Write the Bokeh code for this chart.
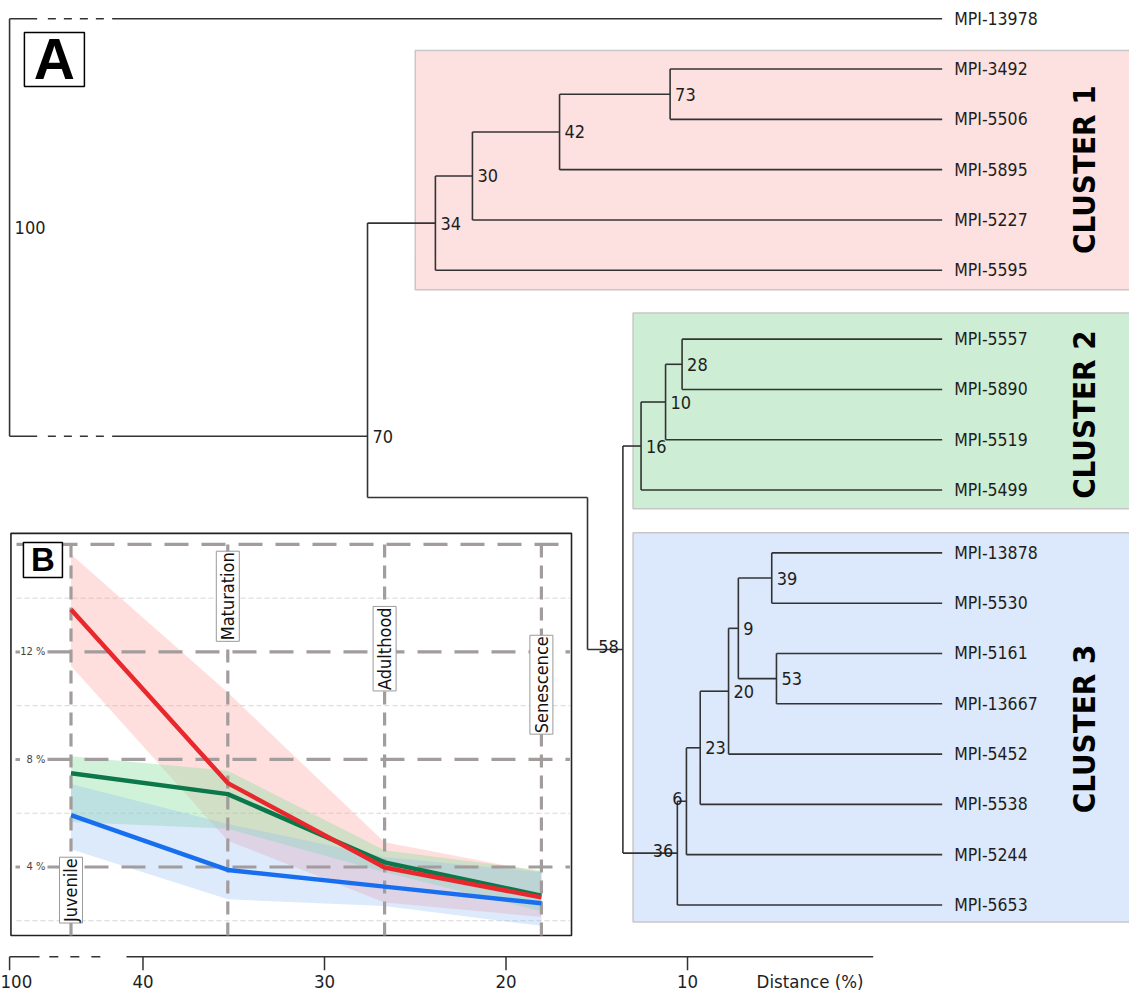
import math
from bokeh.plotting import figure
from bokeh.models import Range1d, LinearAxis, FixedTicker, ColumnDataSource
from bokeh.core.properties import value
from bokeh.embed import file_html
from bokeh.resources import INLINE

# ------------------------------------------------------------------ data
# dendrogram leaves (top to bottom) and their cluster
leaf_names = ["MPI-13978",
              "MPI-3492", "MPI-5506", "MPI-5895", "MPI-5227", "MPI-5595",
              "MPI-5557", "MPI-5890", "MPI-5519", "MPI-5499",
              "MPI-13878", "MPI-5530", "MPI-5161", "MPI-13667", "MPI-5452",
              "MPI-5538", "MPI-5244", "MPI-5653"]
leaf_cluster = [0, 1, 1, 1, 1, 1, 2, 2, 2, 2, 3, 3, 3, 3, 3, 3, 3, 3]

# internal nodes: children, merge distance (%), bootstrap support
node_ids = ["n73", "n42", "n30", "n34", "n28", "n10", "n16", "n39", "n53", "n9",
            "n20", "n23", "n6", "n36", "n58", "n70", "root"]
node_child_a = ["MPI-3492", "n73", "n42", "n30", "MPI-5557", "n28", "n10", "MPI-13878",
                "MPI-5161", "n39", "n9", "n20", "n23", "n6", "n16", "n34", "MPI-13978"]
node_child_b = ["MPI-5506", "MPI-5895", "MPI-5227", "MPI-5595", "MPI-5890", "MPI-5519",
                "MPI-5499", "MPI-5530", "MPI-13667", "n53", "MPI-5452", "MPI-5538",
                "MPI-5244", "MPI-5653", "n36", "n58", "n70"]
node_distance = [10.96, 17.05, 21.85, 23.89, 10.30, 11.21, 12.56, 5.36, 5.10, 7.20,
                 7.74, 9.30, 10.06, 10.56, 13.56, 27.63, 100.0]
node_support = ["73", "42", "30", "34", "28", "10", "16", "39", "53", "9",
                "20", "23", "6", "36", "58", "70", "100"]

cluster_names = ["CLUSTER 1", "CLUSTER 2", "CLUSTER 3"]
cluster_fill = ["#fde1e0", "#cdeed5", "#dce8fb"]

distance_ticks = [100, 40, 30, 20, 10]
distance_title = "Distance (%)"

# panel B: growth stages, mean and band per cluster (%)
stages = ["Juvenile", "Maturation", "Adulthood", "Senescence"]
c1_mean = [13.58, 7.12, 3.98, 2.87]
c1_lo = [11.48, 4.98, 2.68, 2.14]
c1_hi = [15.63, 10.49, 4.92, 3.81]
c2_mean = [7.49, 6.71, 4.17, 2.93]
c2_lo = [5.67, 5.42, 3.80, 2.35]
c2_hi = [8.12, 7.58, 4.62, 3.87]
c3_mean = [5.93, 3.89, 3.27, 2.65]
c3_lo = [4.66, 2.80, 2.55, 1.81]
c3_hi = [7.09, 5.60, 4.37, 3.80]
pct_major = [16, 12, 8, 4]
pct_minor = [14, 10, 6, 2]

# ------------------------------------------------------------------ layout / style
W, H = 1129, 994
NARROW = ("Liberation Sans Narrow, Arial Narrow, Nimbus Sans Narrow, "
          "DejaVu Sans Condensed, Liberation Sans, sans-serif")
BOLD = "Liberation Sans"
TREE_COL = "#333333"
TXT_COL = "#1e1e1e"
GRID_COL = "#a29c9c"

BREAK_POS = 47.35           # plotted position of the broken "100" distance
TITLE_POS = 3.25            # where the axis title sits along the distance scale
LEAF_TIP = -4.03
CLUSTER_GAP = {2: 0.37, 3: 0.25}
BRK = (45.83, 45.24, 42.12, 41.70)   # solid end, dash start, dash end, solid start
DETOUR_X, DETOUR_ROW = 15.51, 9.518
BOX_LEFT = [25.0, 13.0, 13.0]
BOX_PAD_TOP = [0.37, 0.52, 0.40]
BOX_PAD_BOT = [0.39, 0.37, 0.34]
CLUSTER_LABEL_X = -11.82
AXIS_ROW = 18.651
FRAME_BOTTOM_ROW = 18.923


def xpos(d):
    return BREAK_POS if d >= 50 else d


p = figure(width=W, height=H, output_backend="svg", toolbar_location=None,
           x_range=Range1d(47.85, -14.35), y_range=Range1d(FRAME_BOTTOM_ROW, -0.3631),
           x_axis_type=None, y_axis_type=None,
           min_border_left=0, min_border_right=0, min_border_top=0, min_border_bottom=22)
p.outline_line_color = None
p.background_fill_color = "white"
p.border_fill_color = "white"
p.extra_x_ranges = {"bx": Range1d(-0.4496, 6.7506)}
p.extra_y_ranges = {"by": Range1d(0.150, 36.23)}

# ---------------- tree geometry
pos = {}
row = 0.0
prev = None
for name, c in zip(leaf_names, leaf_cluster):
    if prev is not None and c != prev:
        row += CLUSTER_GAP.get(c, 0.0)
    pos[name] = (LEAF_TIP, row)
    row += 1.0
    prev = c
for nid, a, b, d in zip(node_ids, node_child_a, node_child_b, node_distance):
    pos[nid] = (xpos(d), (pos[a][1] + pos[b][1]) / 2.0)

solid = dict(x0=[], y0=[], x1=[], y1=[])
dashed = dict(x0=[], y0=[], x1=[], y1=[])


def seg(store, x0, y0, x1, y1):
    store["x0"].append(x0); store["y0"].append(y0)
    store["x1"].append(x1); store["y1"].append(y1)


for nid, a, b in zip(node_ids, node_child_a, node_child_b):
    nx, ny = pos[nid]
    ya, yb = pos[a][1], pos[b][1]
    if nid == "n70":
        seg(solid, nx, ya, nx, DETOUR_ROW)
        seg(solid, nx, ya, pos[a][0], ya)
        seg(solid, nx, DETOUR_ROW, DETOUR_X, DETOUR_ROW)
        seg(solid, DETOUR_X, DETOUR_ROW, DETOUR_X, yb)
        seg(solid, DETOUR_X, yb, pos[b][0], yb)
        continue
    seg(solid, nx, ya, nx, yb)
    for ch in (a, b):
        cx, cy = pos[ch]
        if nid == "root":
            seg(solid, nx, cy, BRK[0], cy)
            seg(dashed, BRK[1], cy, BRK[2], cy)
            seg(solid, BRK[3], cy, cx, cy)
        else:
            seg(solid, nx, cy, cx, cy)

# cluster boxes
bl, br, bt, bb, lx, ly = [], [], [], [], [], []
for k in range(len(cluster_names)):
    rows = [pos[n][1] for n, c in zip(leaf_names, leaf_cluster) if c == k + 1]
    bl.append(BOX_LEFT[k]); br.append(-20.0)
    bt.append(min(rows) - BOX_PAD_TOP[k]); bb.append(max(rows) + BOX_PAD_BOT[k])
    lx.append(CLUSTER_LABEL_X); ly.append((min(rows) + max(rows)) / 2.0)
p.quad(left=bl, right=br, top=bt, bottom=bb, fill_color=cluster_fill,
       line_color="#cbc6c6", line_width=1.5)
p.text(x=lx, y=ly, text=cluster_names, angle=math.pi / 2, text_align="center",
       text_baseline="middle", text_font=value(NARROW), text_font_style="bold",
       text_font_size="31px", text_color="black")

p.segment(x0="x0", y0="y0", x1="x1", y1="y1", source=ColumnDataSource(solid),
          line_color=TREE_COL, line_width=1.6)
p.segment(x0="x0", y0="y0", x1="x1", y1="y1", source=ColumnDataSource(dashed),
          line_color=TREE_COL, line_width=1.6, line_dash="8 8")

# leaf labels
p.text(x=[pos[n][0] for n in leaf_names], y=[pos[n][1] for n in leaf_names],
       text=leaf_names, x_offset=12, text_align="left", text_baseline="middle",
       text_font=value(NARROW), text_font_size="17.5px", text_color=TXT_COL)

# node support labels
left_above = {"n58", "n36", "n6"}
rx, ry, rt, qx, qy, qt = [], [], [], [], [], []
for nid, s in zip(node_ids, node_support):
    x, y = pos[nid]
    if nid in left_above:
        qx.append(x); qy.append(y); qt.append(s)
    else:
        rx.append(x); ry.append(y); rt.append(s)
p.text(x=rx, y=ry, text=rt, x_offset=5, text_align="left", text_baseline="middle",
       text_font=value(NARROW), text_font_size="18px", text_color=TXT_COL)
p.text(x=qx, y=qy, text=qt, x_offset=-4, y_offset=-3, text_align="right",
       text_baseline="alphabetic", text_font=value(NARROW), text_font_size="18px",
       text_color=TXT_COL)

# "A" panel tag
p.rect(x=[44.88], y=[0.8075], width=60, height=54, width_units="screen",
       height_units="screen", fill_color="white", line_color="black", line_width=1.5)
p.text(x=[44.88], y=[0.8075], text=["A"], text_align="center", text_baseline="middle",
       text_font=value(BOLD), text_font_style="bold", text_font_size="57px",
       text_color="black")

# ---------------- distance axis (line and ticks in the frame, labels by the axis)
ax_plot = [xpos(t) for t in distance_ticks]
overrides = {xpos(t): str(t) for t in distance_ticks}
overrides[TITLE_POS] = distance_title
axis = LinearAxis(ticker=FixedTicker(ticks=ax_plot + [TITLE_POS]),
                  major_label_overrides=overrides, axis_line_color=None,
                  major_tick_in=0, major_tick_out=0, minor_tick_in=0, minor_tick_out=0,
                  major_label_standoff=0, major_label_text_font=NARROW,
                  major_label_text_font_size="18.5px", major_label_text_color=TXT_COL)
p.add_layout(axis, "below")
p.segment(x0=ax_plot, y0=[AXIS_ROW] * len(ax_plot), x1=ax_plot,
          y1=[FRAME_BOTTOM_ROW] * len(ax_plot), line_color=TREE_COL, line_width=1.5)
p.segment(x0=[BREAK_POS, 40.91], y0=[AXIS_ROW, AXIS_ROW], x1=[45.70, -0.23],
          y1=[AXIS_ROW, AXIS_ROW], line_color=TREE_COL, line_width=1.5)
p.segment(x0=[45.16], y0=[AXIS_ROW], x1=[41.86], y1=[AXIS_ROW], line_color=TREE_COL,
          line_width=1.5, line_dash="9 12")

# ---------------- panel B (inset)
R = dict(x_range_name="bx", y_range_name="by")
idx = list(range(len(stages)))
BOX_L, BOX_R, BOX_T, BOX_B = -0.383, 3.192, 16.41, 1.45
p.quad(left=[BOX_L], right=[BOX_R], top=[BOX_T], bottom=[BOX_B], fill_color="white",
       line_color="#222222", line_width=1.6, **R)
# minor dotted lines
p.segment(x0=[-0.3476] * len(pct_minor), y0=pct_minor, x1=[BOX_R - 0.01] * len(pct_minor),
          y1=pct_minor, line_color="#d6d6d6", line_width=1, line_dash="5 3", **R)
# bands
p.varea(x=idx, y1=c1_lo, y2=c1_hi, fill_color="#ff9c9c", fill_alpha=0.33, **R)
p.varea(x=idx, y1=c2_lo, y2=c2_hi, fill_color="#8fe0a2", fill_alpha=0.42, **R)
p.varea(x=idx, y1=c3_lo, y2=c3_hi, fill_color="#94bdf5", fill_alpha=0.32, **R)
# major dashed lines
lab_pct = [v for v in pct_major if v != max(pct_major)]
x_start = [-0.3476 if v == max(pct_major) else -0.150 for v in pct_major]
p.segment(x0=x_start, y0=pct_major, x1=[BOX_R - 0.01] * len(pct_major), y1=pct_major,
          line_color=GRID_COL, line_width=3.2, line_dash="24 13", **R)
p.segment(x0=[-0.3540] * len(lab_pct), y0=lab_pct, x1=[-0.3255] * len(lab_pct),
          y1=lab_pct, line_color=GRID_COL, line_width=3.0, **R)
p.text(x=[-0.163] * len(lab_pct), y=lab_pct, text=[f"{v} %" for v in lab_pct],
       text_align="right", text_baseline="middle", text_font=value(NARROW),
       text_font_size="11px", text_color="#444444", **R)
p.segment(x0=idx, y0=[max(pct_major)] * 4, x1=idx, y1=[BOX_B] * 4, line_color=GRID_COL,
          line_width=3.2, line_dash="13 8", **R)
# mean lines
p.line(idx, c3_mean, line_color="#176ff0", line_width=4.5, line_join="round", **R)
p.line(idx, c2_mean, line_color="#0b774a", line_width=4.5, line_join="round", **R)
p.line(idx, c1_mean, line_color="#e8282c", line_width=4.5, line_join="round", **R)
# stage labels
p.text(x=idx, y=[3.14, 14.07, 12.12, 10.78], text=stages, angle=math.pi / 2,
       text_align="center", text_baseline="middle", text_font=value(NARROW),
       text_font_size="18px", text_color="#111111", background_fill_color="white",
       border_line_color="#9a9a9a", border_line_width=1, padding=1, **R)
# "B" tag
p.rect(x=[-0.179], y=[15.42], width=39, height=35, width_units="screen",
       height_units="screen", fill_color="white", line_color="black", line_width=1.5, **R)
p.text(x=[-0.179], y=[15.42], text=["B"], text_align="center", text_baseline="middle",
       text_font=value(BOLD), text_font_style="bold", text_font_size="33px",
       text_color="black", **R)

open("out.html", "w").write(file_html(p, INLINE))
